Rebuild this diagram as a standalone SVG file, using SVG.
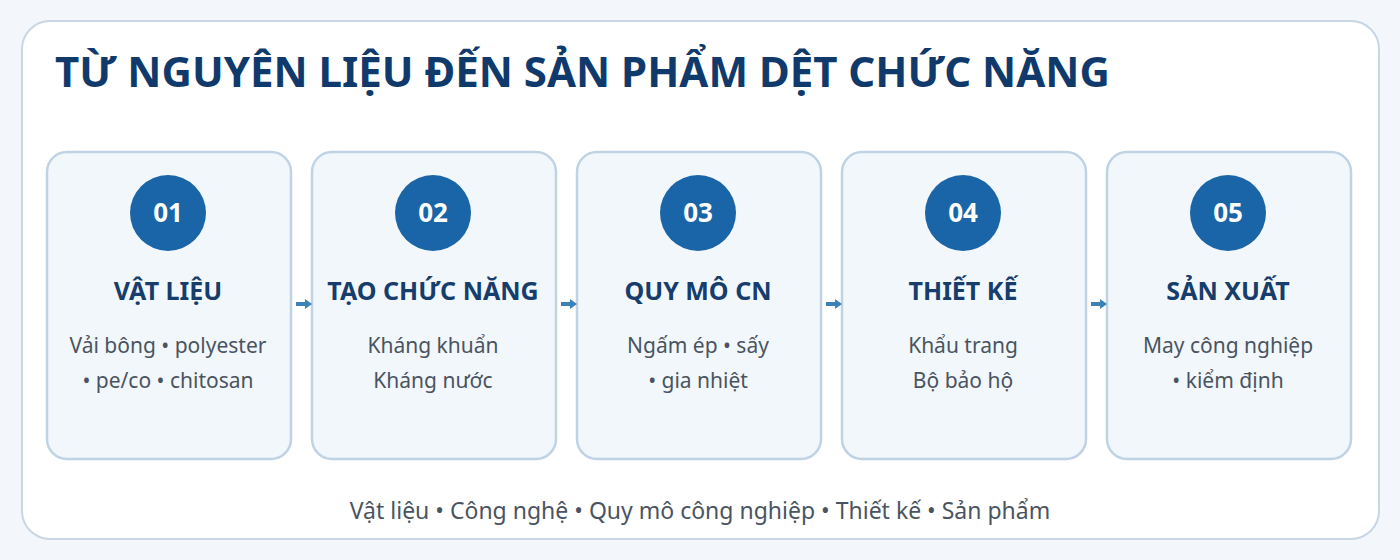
<svg xmlns="http://www.w3.org/2000/svg" width="1400" height="560" viewBox="0 0 1400 560">
<defs>
<style>
.t{font-family:"Noto Sans","Open Sans",sans-serif}
.card{fill:#f2f7fc;stroke:#bfd3e5;stroke-width:2.5}
.num{fill:#1a65a8}
.nt{font-size:26px;font-weight:700;fill:#ffffff;text-anchor:middle}
.h{font-size:25px;font-weight:700;fill:#163d6b;text-anchor:middle}
.b{font-size:21px;fill:#4a5461;text-anchor:middle}
.conn{stroke:#3b82b8;stroke-width:4;fill:none}
</style>
<marker id="ah" markerWidth="8" markerHeight="12" refX="1" refY="6" orient="auto" markerUnits="userSpaceOnUse">
<path d="M0,1 L7,6 L0,11 Z" fill="#3b82b8"/>
</marker>
</defs>
<rect width="1400" height="560" fill="#f3f7fb"/>
<rect x="22" y="21" width="1357" height="518" rx="28" fill="#ffffff" stroke="#c9d6e4" stroke-width="2"/>
<text class="t" x="55" y="87" font-size="42" font-weight="700" fill="#0f3a6b">TỪ NGUYÊN LIỆU ĐẾN SẢN PHẨM DỆT CHỨC NĂNG</text>
<g id="n1">
<rect class="card" x="47" y="152" width="244" height="307" rx="20"/>
<circle class="num" cx="168" cy="213" r="38"/>
<text class="t nt" x="168" y="222">01</text>
<text class="t h" x="168" y="300">VẬT LIỆU</text>
<text class="t b" x="168" y="353">Vải bông • polyester</text>
<text class="t b" x="168" y="388">• pe/co • chitosan</text>
</g>
<g id="n2">
<rect class="card" x="312" y="152" width="244" height="307" rx="20"/>
<circle class="num" cx="433" cy="213" r="38"/>
<text class="t nt" x="433" y="222">02</text>
<text class="t h" x="433" y="300">TẠO CHỨC NĂNG</text>
<text class="t b" x="433" y="353">Kháng khuẩn</text>
<text class="t b" x="433" y="388">Kháng nước</text>
</g>
<g id="n3">
<rect class="card" x="577" y="152" width="244" height="307" rx="20"/>
<circle class="num" cx="698" cy="213" r="38"/>
<text class="t nt" x="698" y="222">03</text>
<text class="t h" x="698" y="300">QUY MÔ CN</text>
<text class="t b" x="698" y="353">Ngấm ép • sấy</text>
<text class="t b" x="698" y="388">• gia nhiệt</text>
</g>
<g id="n4">
<rect class="card" x="842" y="152" width="244" height="307" rx="20"/>
<circle class="num" cx="963" cy="213" r="38"/>
<text class="t nt" x="963" y="222">04</text>
<text class="t h" x="963" y="300">THIẾT KẾ</text>
<text class="t b" x="963" y="353">Khẩu trang</text>
<text class="t b" x="963" y="388">Bộ bảo hộ</text>
</g>
<g id="n5">
<rect class="card" x="1107" y="152" width="244" height="307" rx="20"/>
<circle class="num" cx="1228" cy="213" r="38"/>
<text class="t nt" x="1228" y="222">05</text>
<text class="t h" x="1228" y="300">SẢN XUẤT</text>
<text class="t b" x="1228" y="353">May công nghiệp</text>
<text class="t b" x="1228" y="388">• kiểm định</text>
</g>
<g id="connectors">
<line class="conn" x1="296" y1="304" x2="306" y2="304" marker-end="url(#ah)"/>
<line class="conn" x1="561" y1="304" x2="571" y2="304" marker-end="url(#ah)"/>
<line class="conn" x1="826" y1="304" x2="836" y2="304" marker-end="url(#ah)"/>
<line class="conn" x1="1091" y1="304" x2="1101" y2="304" marker-end="url(#ah)"/>
</g>
<text class="t" x="700" y="519" font-size="23" fill="#4a5461" text-anchor="middle">Vật liệu • Công nghệ • Quy mô công nghiệp • Thiết kế • Sản phẩm</text>
</svg>
